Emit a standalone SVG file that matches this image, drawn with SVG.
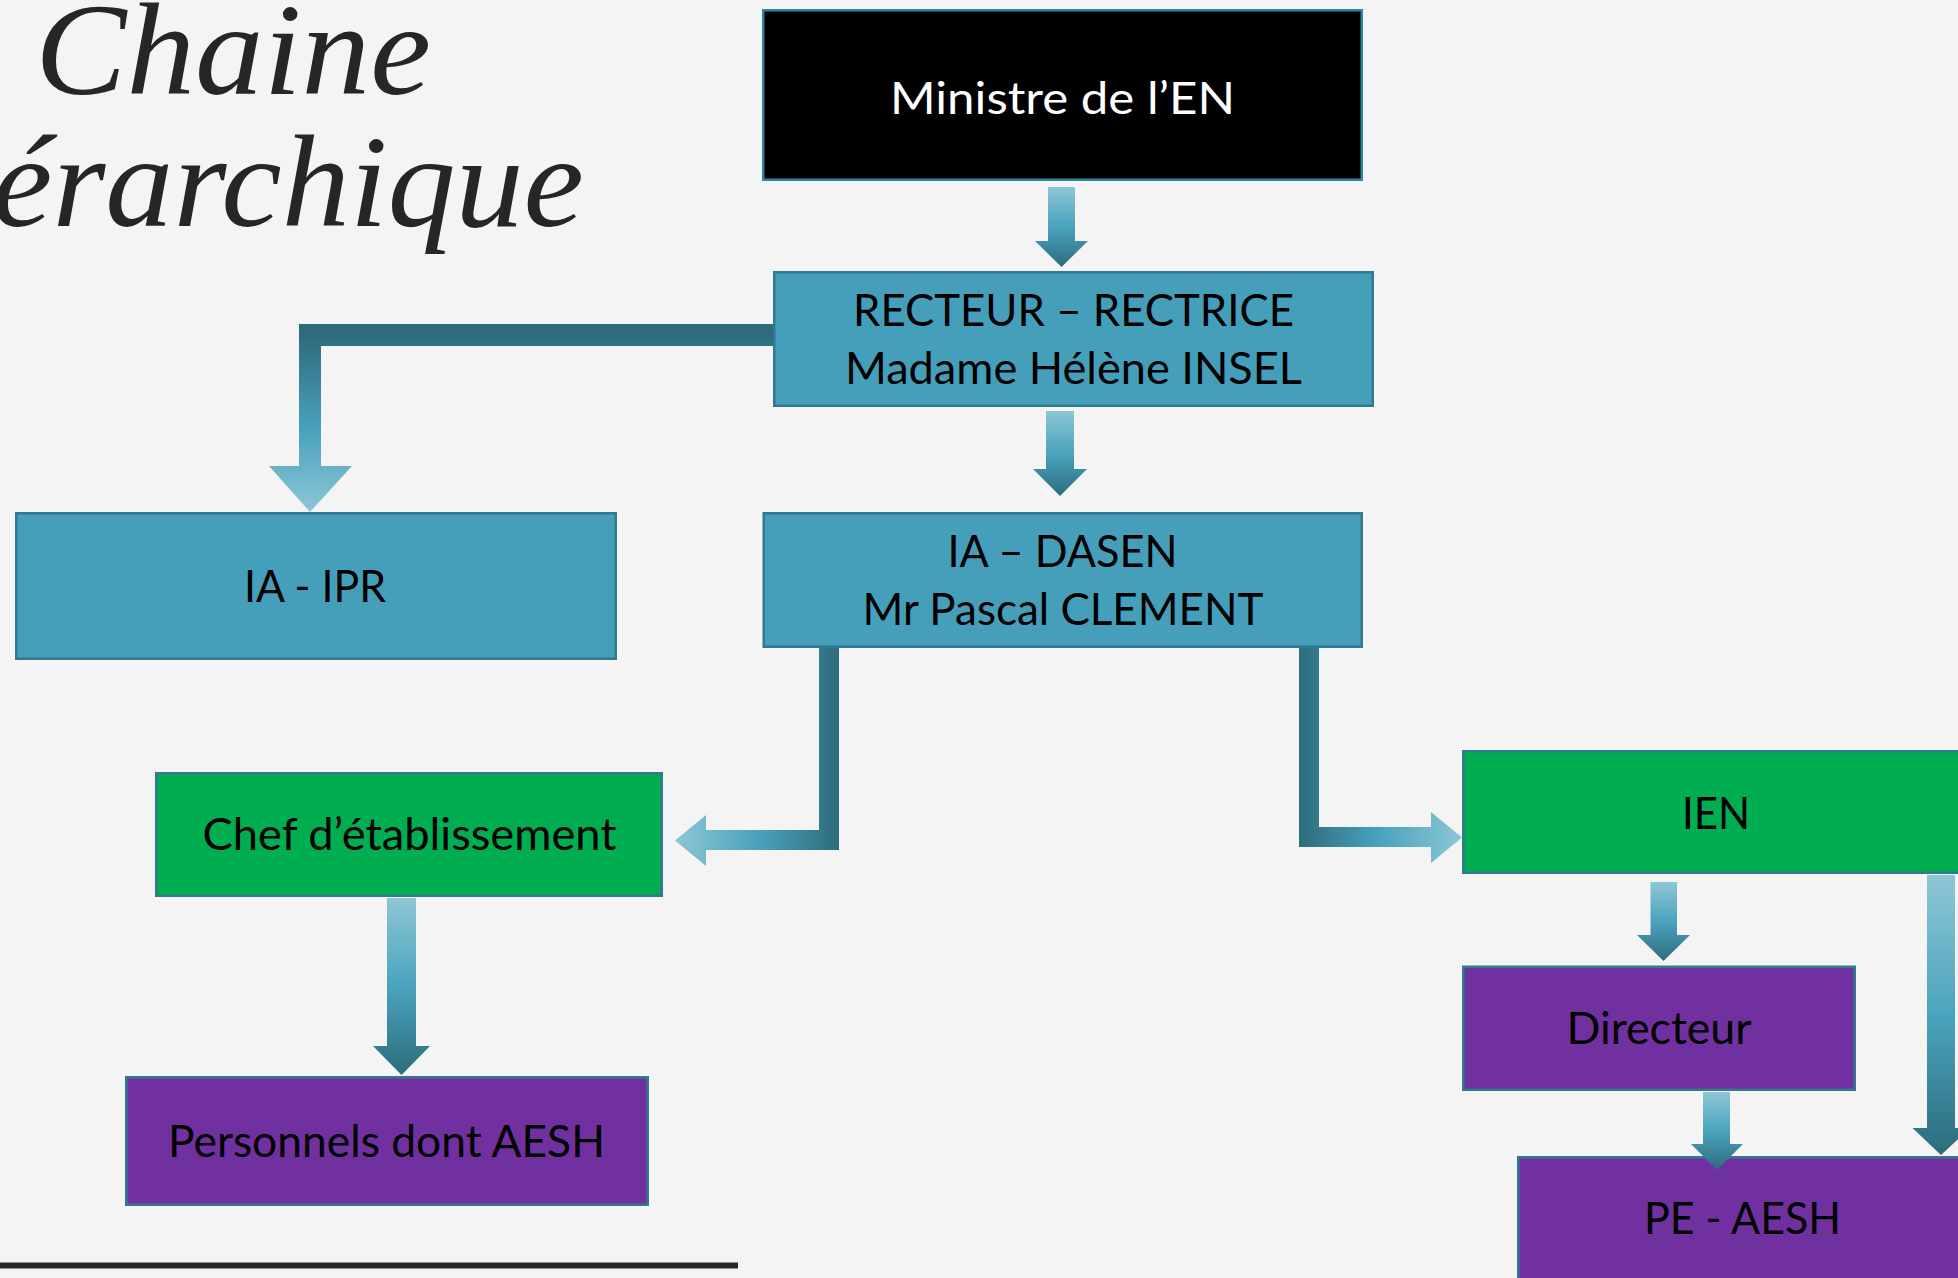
<svg xmlns="http://www.w3.org/2000/svg" width="1958" height="1278" viewBox="0 0 1958 1278">
  <defs>
    <style>
      .title { font-family: "Liberation Serif", "DejaVu Serif", serif; font-style: italic; font-size: 132px; fill: #262626; }
      .lbl { font-family: Lato, "Open Sans", "Liberation Sans", sans-serif; font-size: 44px; fill: #000000; }
      .white { fill: #ffffff; }
      .box { stroke-width: 2.5; }
      .blue { fill: #459FBA; stroke: #31798F; }
      .black { fill: #000000; stroke: #31849B; }
      .green { fill: #00AE51; stroke: #31798F; }
      .purple { fill: #7030A0; stroke: #31798F; }
    </style>
    <linearGradient id="gDown" x1="0" y1="0" x2="0" y2="1">
      <stop offset="0" stop-color="#8EC6D6"/>
      <stop offset="0.5" stop-color="#4AA3BD"/>
      <stop offset="1" stop-color="#2D6C7D"/>
    </linearGradient>
    <linearGradient id="gIpr" gradientUnits="userSpaceOnUse" x1="0" y1="335" x2="0" y2="512">
      <stop offset="0" stop-color="#2D6C7D"/>
      <stop offset="0.55" stop-color="#4AA3BD"/>
      <stop offset="1" stop-color="#8EC6D6"/>
    </linearGradient>
    <linearGradient id="gChef" gradientUnits="userSpaceOnUse" x1="839" y1="0" x2="675" y2="0">
      <stop offset="0" stop-color="#2D6C7D"/>
      <stop offset="0.5" stop-color="#4AA3BD"/>
      <stop offset="1" stop-color="#8EC6D6"/>
    </linearGradient>
    <linearGradient id="gIen" gradientUnits="userSpaceOnUse" x1="1299" y1="0" x2="1462" y2="0">
      <stop offset="0" stop-color="#2D6C7D"/>
      <stop offset="0.5" stop-color="#4AA3BD"/>
      <stop offset="1" stop-color="#8EC6D6"/>
    </linearGradient>
  </defs>

  <rect x="0" y="0" width="1958" height="1278" fill="#F4F4F4"/>

  <g id="title">
    <text class="title" x="35" y="94" textLength="396" lengthAdjust="spacingAndGlyphs">Chaine</text>
    <text class="title" x="584" y="226" text-anchor="end" textLength="592" lengthAdjust="spacingAndGlyphs">érarchique</text>
    <rect x="0" y="1262.5" width="738" height="6" fill="#262626"/>
  </g>

  <g id="node-ministre">
    <rect class="box black" x="763.25" y="10.25" width="598.5" height="169.5"/>
    <text class="lbl white" x="1062.5" y="114" font-size="49" text-anchor="middle" textLength="345" lengthAdjust="spacingAndGlyphs">Ministre de l’EN</text>
  </g>

  <g id="node-recteur">
    <rect class="box blue" x="774.25" y="272.25" width="598.5" height="133.5"/>
    <text class="lbl" x="1073.5" y="326" font-size="42" text-anchor="middle" textLength="441" lengthAdjust="spacingAndGlyphs">RECTEUR – RECTRICE</text>
    <text class="lbl" x="1073.5" y="384" font-size="42" text-anchor="middle" textLength="457" lengthAdjust="spacingAndGlyphs">Madame Hélène INSEL</text>
  </g>

  <g id="node-iaipr">
    <rect class="box blue" x="16.25" y="513.25" width="599.5" height="145.5"/>
    <text class="lbl" x="315" y="602" font-size="44" text-anchor="middle" textLength="142" lengthAdjust="spacingAndGlyphs">IA - IPR</text>
  </g>

  <g id="node-dasen">
    <rect class="box blue" x="763.75" y="513.25" width="598" height="133.5"/>
    <text class="lbl" x="1062.5" y="567" font-size="43" text-anchor="middle" textLength="230" lengthAdjust="spacingAndGlyphs">IA – DASEN</text>
    <text class="lbl" x="1063" y="625" font-size="43" text-anchor="middle" textLength="401" lengthAdjust="spacingAndGlyphs">Mr Pascal CLEMENT</text>
  </g>

  <g id="node-chef">
    <rect class="box green" x="156.25" y="773.25" width="505.5" height="122.5"/>
    <text class="lbl" x="409.5" y="850" font-size="45" text-anchor="middle" textLength="414" lengthAdjust="spacingAndGlyphs">Chef d’établissement</text>
  </g>

  <g id="node-personnels">
    <rect class="box purple" x="126.25" y="1077.25" width="521.5" height="127.5"/>
    <text class="lbl" x="386.5" y="1157" font-size="45" text-anchor="middle" textLength="437" lengthAdjust="spacingAndGlyphs">Personnels dont AESH</text>
  </g>

  <g id="node-ien">
    <rect class="box green" x="1463.25" y="751.25" width="508" height="121.5"/>
    <text class="lbl" x="1716" y="829" font-size="45" text-anchor="middle" textLength="68" lengthAdjust="spacingAndGlyphs">IEN</text>
  </g>

  <g id="node-directeur">
    <rect class="box purple" x="1463.25" y="966.75" width="391.5" height="123"/>
    <text class="lbl" x="1659" y="1044" font-size="44" text-anchor="middle" textLength="185" lengthAdjust="spacingAndGlyphs">Directeur</text>
  </g>

  <g id="node-pe">
    <rect class="box purple" x="1518.25" y="1157.25" width="450" height="150"/>
    <text class="lbl" x="1742.5" y="1234" font-size="44" text-anchor="middle" textLength="197" lengthAdjust="spacingAndGlyphs">PE - AESH</text>
  </g>

  <g id="connectors">
    <polygon fill="url(#gDown)" points="1048,187 1075,187 1075,241 1088,241 1061.5,267 1035,241 1048,241"/>
    <polygon fill="url(#gDown)" points="1046,411 1074,411 1074,469 1087,469 1060,496 1033,469 1046,469"/>
    <polygon fill="url(#gIpr)" points="773,324 299,324 299,466 269,466 310,512 352,466 321,466 321,346 773,346"/>
    <polygon fill="url(#gChef)" points="819,648 839,648 839,850 706,850 706,866 675,840.5 706,815 706,830 819,830"/>
    <polygon fill="url(#gIen)" points="1299,648 1319,648 1319,827 1431,827 1431,812 1462,837.5 1431,863 1431,847 1299,847"/>
    <polygon fill="url(#gDown)" points="387,898 416,898 416,1046 430,1046 401.5,1075 373,1046 387,1046"/>
    <polygon fill="url(#gDown)" points="1650.5,882 1677,882 1677,935 1690,935 1663.5,961 1637,935 1650.5,935"/>
    <polygon fill="url(#gDown)" points="1703,1092 1730,1092 1730,1144 1743,1144 1717,1170 1691,1144 1703,1144"/>
    <polygon fill="url(#gDown)" points="1927,875 1955,875 1955,1128 1970,1128 1941,1155 1912.5,1128 1927,1128"/>
  </g>
</svg>
